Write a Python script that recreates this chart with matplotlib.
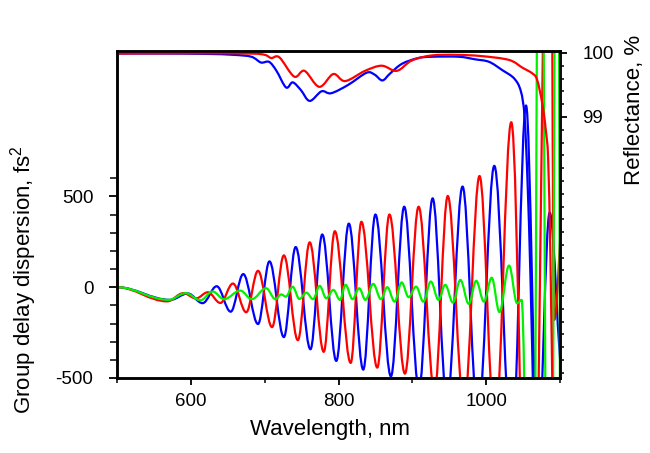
import numpy as np
import matplotlib
matplotlib.use("Agg")
import matplotlib.pyplot as plt
from matplotlib.path import Path
from matplotlib.patches import PathPatch

plt.rcParams['font.family'] = ['Liberation Sans', 'DejaVu Sans']
plt.rcParams['mathtext.default'] = 'regular'
plt.rcParams['axes.unicode_minus'] = False

# ---------------- data ----------------
# GDD extrema (wavelength nm, fs^2)
blue_gdd_wl = [500, 572, 596, 616, 635, 654, 671, 691, 706.5, 726, 742, 762, 778, 797, 814,
               833.5, 850, 871, 889, 909, 927.5, 947, 968, 989, 1011, 1035, 1054, 1070, 1086, 1104]
blue_gdd = [0, -70, -35, -88, 5, -135, 72, -203, 142, -275, 221, -342, 290, -406, 350,
            -454, 400, -491, 443, -560, 489, -630, 554, -720, 668, -900, 1000, -900, 410, -500]

red_gdd_wl = [500, 568, 590, 607, 623, 640, 657, 675, 691, 710, 726, 745, 761, 780, 795,
              816.5, 831, 852.5, 869, 890, 908.5, 930, 948, 970, 991, 1012, 1034, 1060, 1087, 1092, 1106]
red_gdd = [0, -78, -33, -62, -28, -87, 20, -138, 90, -220, 175, -292, 247, -356, 308,
           -417, 360, -443, 400, -476, 443, -570, 502, -660, 612, -780, 908, -2500, 3000, -181, 520]

green_gdd_wl = [500, 570, 593, 613, 629.5, 645, 667, 682.5, 702, 714.5, 722.5, 728.5, 738, 747,
                756.5, 765.5, 774.5, 783.5, 793, 802, 809.5, 819, 828, 836.5, 847, 857.5, 866,
                876, 885.5, 895, 905, 915, 925, 935.5, 944.5, 955, 965, 976.5, 986.5, 997,
                1007.5, 1018, 1031, 1042, 1048, 1062, 1073, 1086, 1096.5, 1102]
green_gdd = [0, -70, -33, -72, -24, -66, -19, -66, -6, -66, -40, -52, 2, -65,
             -30, -66, 7, -61, -15, -70, 13, -66, -6, -70, 18, -66, 0,
             -80, 26, -55, 3, -80, 31, -70, 13, -85, 40, -92, 35, -80,
             52, -137, 119, -89, -70, -3000, 3500, -3500, 3500, -2500]

# Reflectance (%)
blue_r_wl = [500, 560, 620, 658, 682, 695, 706, 716, 729, 738, 749, 761, 777, 790, 813, 838,
             849, 859.5, 870, 886, 908, 926.5, 963, 985, 1004, 1022, 1038, 1047, 1052, 1056, 1060, 1064]
blue_r = [99.99, 99.99, 99.985, 99.97, 99.94, 99.85, 99.86, 99.72, 99.46, 99.54, 99.42, 99.25,
          99.40, 99.37, 99.50, 99.69, 99.66, 99.57, 99.68, 99.83, 99.92, 99.94, 99.94, 99.90,
          99.86, 99.73, 99.60, 99.40, 99.0, 98.0, 96.5, 94.5]

red_r_wl = [500, 600, 680, 700, 709, 720, 740, 754, 774, 793, 809, 836, 858.5, 879, 899, 926,
            960, 994, 1031, 1049, 1062.5, 1069, 1076, 1080.7, 1084, 1087, 1090]
red_r = [99.99, 99.995, 99.99, 99.97, 99.92, 99.93, 99.63, 99.72, 99.47, 99.67, 99.56, 99.72,
         99.80, 99.72, 99.88, 99.96, 99.97, 99.95, 99.89, 99.77, 99.68, 99.58, 99.21, 98.80,
         98.33, 96.8, 94.5]

x_ticks = [600, 800, 1000]
x_minor_ticks = [500, 700, 900, 1100]
gdd_ticks = [-500, 0, 500]
gdd_minor_ticks = [-400, -300, -200, -100, 100, 200, 300, 400, 600]
refl_ticks = [99, 100]
refl_labels = ['99', '100']

# ---------------- helpers: smooth curves drawn by matplotlib paths ----------------
def extrema_path(xs, ys, k=0.364):
    verts = [(xs[0], ys[0])]
    codes = [Path.MOVETO]
    for i in range(len(xs) - 1):
        dx = xs[i + 1] - xs[i]
        verts += [(xs[i] + k * dx, ys[i]), (xs[i + 1] - k * dx, ys[i + 1]), (xs[i + 1], ys[i + 1])]
        codes += [Path.CURVE4] * 3
    return Path(verts, codes)


def catmull_path(xs, ys):
    pts = np.column_stack([xs, ys]).astype(float)
    n = len(pts)
    verts = [tuple(pts[0])]
    codes = [Path.MOVETO]
    for i in range(n - 1):
        p0 = pts[max(i - 1, 0)]
        p1 = pts[i]
        p2 = pts[i + 1]
        p3 = pts[min(i + 2, n - 1)]
        c1 = p1 + (p2 - p0) / 6.0
        c2 = p2 - (p3 - p1) / 6.0
        verts += [tuple(c1), tuple(c2), tuple(p2)]
        codes += [Path.CURVE4] * 3
    return Path(verts, codes)


BLUE = '#0000ff'
RED = '#ff0000'
GREEN = '#00f000'
LW = 1.6

fig = plt.figure(figsize=(6.5, 4.53), dpi=100)
ax = fig.add_axes([117 / 650, 1 - 378 / 453, 443 / 650, 327 / 453])
ax.set_xlim(500, 1100)
ax.set_ylim(-500, 1300)

for xs, ys, c in [(blue_gdd_wl, blue_gdd, BLUE), (red_gdd_wl, red_gdd, RED),
                  (green_gdd_wl, green_gdd, GREEN)]:
    ax.add_patch(PathPatch(extrema_path(xs, ys), fill=False, edgecolor=c, lw=LW,
                           joinstyle='round', capstyle='round'))

ax2 = ax.twinx()
for xs, ys, c in [(blue_r_wl, blue_r, BLUE), (red_r_wl, red_r, RED)]:
    ax2.add_patch(PathPatch(catmull_path(xs, ys), fill=False, edgecolor=c, lw=LW,
                            joinstyle='round', capstyle='round'))
ax2.set_xlim(500, 1100)
ax2.set_ylim(94.92, 100.03)

# ticks
ax.set_xticks(x_ticks)
ax.set_xticks(x_minor_ticks, minor=True)
ax.set_yticks(gdd_ticks)
ax.set_yticks(gdd_minor_ticks, minor=True)
ax.tick_params(axis='x', which='major', direction='out', length=5, width=1.3,
               labelsize=13.5, pad=6)
ax.tick_params(axis='x', which='minor', direction='out', length=3.5, width=1.1)
ax.tick_params(axis='y', which='major', direction='out', length=6, width=1.3,
               labelsize=13.5, pad=11)
ax.tick_params(axis='y', which='minor', direction='out', length=5, width=1.1)

ax2.set_yticks(refl_ticks)
ax2.set_yticklabels(refl_labels)
ax2.set_yticks(np.arange(95.0, 99.95, 0.2), minor=True)
ax2.tick_params(axis='y', which='major', direction='out', length=5, width=1.3,
                labelsize=13.5, pad=11)
ax2.tick_params(axis='y', which='minor', direction='out', length=3, width=1.1)

for a in (ax, ax2):
    for s in a.spines.values():
        s.set_linewidth(1.8)

ax.set_xlabel('Wavelength, nm', fontsize=16)
ax.xaxis.set_label_coords(0.48, -0.125)
ax.set_ylabel('Group delay dispersion, fs$^2$', fontsize=16)
ax.yaxis.set_label_coords(-0.176, 0.30)
ax2.set_ylabel('Reflectance, %', fontsize=16)
ax2.yaxis.set_label_coords(1.144, 0.82)

fig.savefig('out.png', dpi=100)
